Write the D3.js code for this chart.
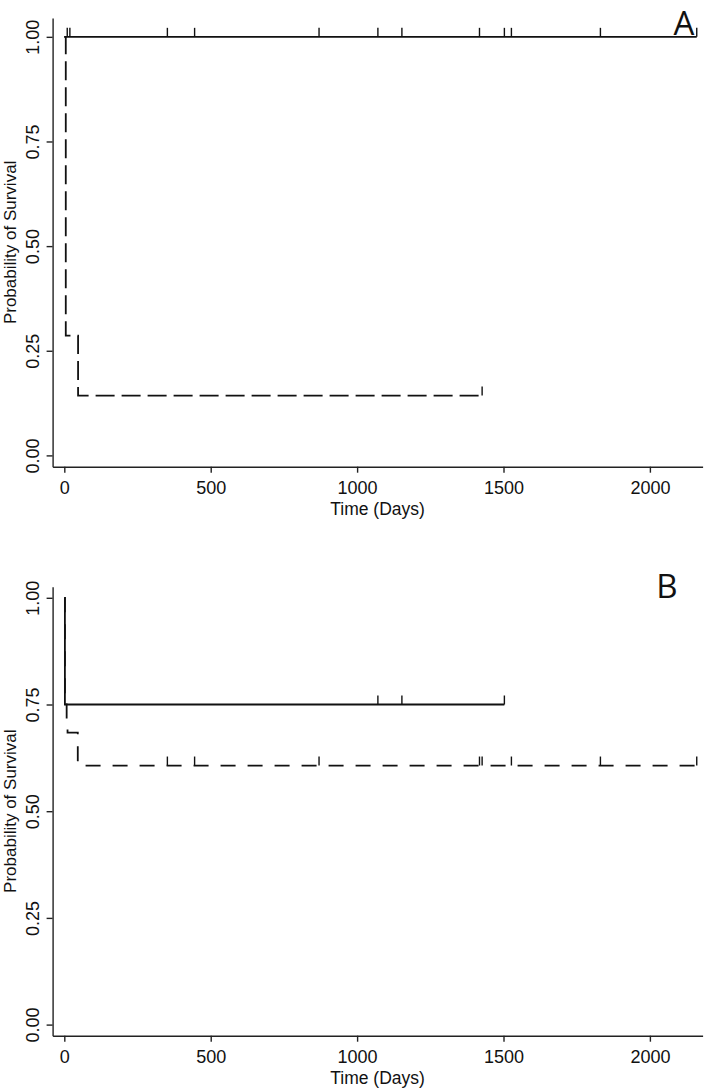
<!DOCTYPE html>
<html lang="en">
<head>
<meta charset="utf-8">
<title>Kaplan-Meier survival, panels A and B</title>
<script src="https://d3js.org/d3.v7.min.js"></script>
<style>
  body { margin: 0; background: #fff; }
  svg text { font-family: "Liberation Sans", Arial, sans-serif; fill: #111; }
</style>
</head>
<body>
<script>
// tick values
var xTicks = [0, 500, 1000, 1500, 2000];
var yTicks = [0, 0.25, 0.5, 0.75, 1];

// panel A - solid group (all censored)
var aSolidTimes = [0];
var aSolidSurv = [1];
var aSolidEnd = 2160;
var aSolidCensor = [10, 19, 352, 445, 870, 1071, 1153, 1418, 1503, 1527, 1831, 2160];

// panel A - dashed group
var aDashTimes = [0, 5, 47];
var aDashSurv = [1, 0.286, 0.143];
var aDashEnd = 1427;
var aDashCensor = [1427];

// panel B - solid group
var bSolidTimes = [0, 2];
var bSolidSurv = [1, 0.75];
var bSolidEnd = 1503;
var bSolidCensor = [1071, 1153, 1503];

// panel B - dashed group
var bDashTimes = [0, 2, 8, 11, 46];
var bDashSurv = [1, 0.75, 0.70, 0.684, 0.607];
var bDashEnd = 2160;
var bDashCensor = [352, 445, 870, 1418, 1427, 1527, 1831, 2160];

var svg = d3.select("body").append("svg")
    .attr("width", 709)
    .attr("height", 1089);

var x = d3.scaleLinear().domain([-40, 2180]).range([52.6, 702.6]);

function steps(times, surv, end) {
    var pts = times.map(function(t, i) { return [t, surv[i]]; });
    pts.push([end, surv[surv.length - 1]]);
    return pts;
}

function survAt(times, surv, t) {
    var v = surv[0];
    times.forEach(function(tt, i) { if (tt <= t) v = surv[i]; });
    return v;
}

function panel(opt) {
    var y = d3.scaleLinear().domain(opt.yDomain).range(opt.yRange);
    var g = svg.append("g");

    // x axis
    var xa = g.append("g")
        .attr("transform", "translate(0," + opt.yRange[0] + ")")
        .call(d3.axisBottom(x).tickValues(xTicks).tickFormat(d3.format("d"))
            .tickSize(6).tickSizeOuter(0).tickPadding(9));
    xa.selectAll("text").attr("font-size", 18);

    // y axis
    var ya = g.append("g")
        .attr("transform", "translate(" + x.range()[0] + ",0)")
        .call(d3.axisLeft(y).tickValues(yTicks).tickFormat(d3.format(".2f")).tickSize(6).tickSizeOuter(0));
    ya.selectAll("text")
        .attr("font-size", 18)
        .attr("text-anchor", "middle")
        .attr("x", null).attr("dy", null)
        .attr("transform", "translate(-14,0) rotate(-90)");

    g.selectAll(".domain, .tick line").attr("stroke", "#222").attr("stroke-width", 1.4);
    g.selectAll(".tick text").attr("fill", "#111");

    // axis titles
    g.append("text")
        .attr("transform", "translate(16," + (opt.yRange[0] + opt.yRange[1]) / 2 + ") rotate(-90)")
        .attr("text-anchor", "middle")
        .attr("font-size", 17)
        .text("Probability of Survival");

    g.append("text")
        .attr("x", (x.range()[0] + x.range()[1]) / 2)
        .attr("y", opt.yRange[0] + 48)
        .attr("text-anchor", "middle")
        .attr("font-size", 17.5)
        .text("Time (Days)");

    // panel letter
    g.append("text")
        .attr("x", opt.letterX)
        .attr("y", opt.letterY)
        .attr("text-anchor", "middle")
        .attr("font-size", 33)
        .style("font-family", "'Open Sans', 'Noto Sans', sans-serif")
        .text(opt.letter);

    var line = d3.line()
        .x(function(d) { return x(d[0]); })
        .y(function(d) { return y(d[1]); })
        .curve(d3.curveStepAfter);

    opt.series.forEach(function(s) {
        g.append("path")
            .datum(steps(s.times, s.surv, s.end))
            .attr("d", line)
            .attr("fill", "none")
            .attr("stroke", "#111")
            .attr("stroke-width", 1.8)
            .attr("stroke-dasharray", s.dash);

        g.selectAll(null)
            .data(s.censor)
            .enter()
            .append("line")
            .attr("x1", function(d) { return x(d); })
            .attr("x2", function(d) { return x(d); })
            .attr("y1", function(d) { return y(survAt(s.times, s.surv, d)); })
            .attr("y2", function(d) { return y(survAt(s.times, s.surv, d)) - 9; })
            .attr("stroke", "#111")
            .attr("stroke-width", 1.4);
    });
}

panel({
    yDomain: [-0.027, 1.045],
    yRange: [466.7, 18],
    letter: "A", letterX: 684, letterY: 35,
    series: [
        { times: aSolidTimes, surv: aSolidSurv, end: aSolidEnd, censor: aSolidCensor, dash: null },
        { times: aDashTimes, surv: aDashSurv, end: aDashEnd, censor: aDashCensor, dash: "19,7" }
    ]
});

panel({
    yDomain: [-0.026, 1.026],
    yRange: [1035.7, 586.7],
    letter: "B", letterX: 667, letterY: 598,
    series: [
        { times: bSolidTimes, surv: bSolidSurv, end: bSolidEnd, censor: bSolidCensor, dash: null },
        { times: bDashTimes, surv: bDashSurv, end: bDashEnd, censor: bDashCensor, dash: "15,12" }
    ]
});
</script>
</body>
</html>
